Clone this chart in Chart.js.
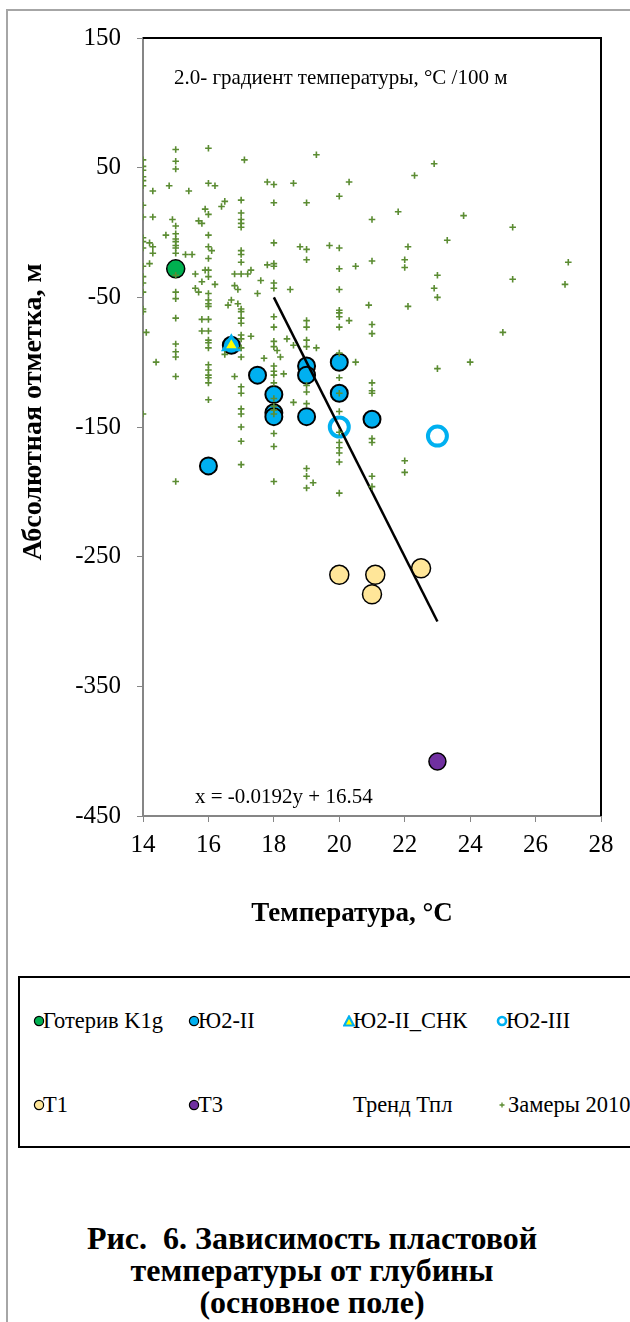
<!DOCTYPE html>
<html>
<head>
<meta charset="utf-8">
<script src="https://cdn.jsdelivr.net/npm/chart.js@4"></script>
<style>
  body { margin: 0; background: #fff; font-family: "Liberation Serif", "Times New Roman", serif; }
  #page { position: relative; width: 630px; height: 1322px; overflow: hidden; }
  #frame { position: absolute; left: 6px; top: 9px; width: 700px; height: 1400px;
           border-left: 2px solid #a6a6a6; border-top: 2px solid #a6a6a6; }
  #chartBox { position: absolute; left: 0; top: 0; width: 630px; height: 950px; }
  #legend { position: absolute; left: 18px; top: 976px; width: 700px; height: 168px; border: 2px solid #000; }
  .item { position: absolute; font-size: 22.5px; line-height: 24px; white-space: nowrap; color: #000; }
  .item svg { position: absolute; left: 0; top: 6px; }
  #title { position: absolute; left: 0; width: 624px; top: 1222px; text-align: center;
           font-weight: bold; font-size: 32px; line-height: 32px; }
</style>
</head>
<body>
<div id="page">
  <div id="frame"></div>
  <div id="chartBox"><canvas id="myChart"></canvas></div>
  <div id="legend"></div>
  <div id="title">Рис.&nbsp; 6. Зависимость пластовой<br>температуры от глубины<br>(основное поле)</div>
</div>
<script>
// температура, °C / абсолютная отметка, м
const goteriv = [[15, -28]];
const yu2II = [[16.7, -87], [16, -180], [17.5, -110], [18, -125], [18, -139], [18, -142],
  [19, -103], [19, -110], [19, -142], [20, -100], [20, -124], [21, -144]];
const yu2IIsnk = [[16.7, -87]];
const yu2III = [[20, -150], [23, -157]];
const t1 = [[20, -264], [21.1, -264], [21, -279], [22.5, -259]];
const t3 = [[23, -408]];
const trend = [[18, -50], [23, -300]];

const zamery2010 = [
  [14, 56], [14, 51], [14, 48], [14, 43], [14, 40], [14, 36], [14, 21], [14, 12], [14, -4], [14, -7],
  [14, -12], [14, -26], [14, -34], [14, -39], [14, -46], [14, -59], [14, -61], [14, -140],
  [14.1, -77], [14.2, -8], [14.2, -24], [14.3, 32], [14.3, 12], [14.3, -11], [14.3, -16], [14.4, -100],
  [14.7, -2], [14.8, 36], [14.9, 10],
  [15, 64], [15, 55], [15, 49], [15, 5], [15, -1], [15, -5], [15, -7], [15, -10], [15, -12], [15, -16],
  [15, -33], [15, -46], [15, -51], [15, -66], [15, -86], [15, -92], [15, -96], [15, -111], [15, -192],
  [15.3, -17], [15.4, 32], [15.5, -17], [15.6, -32], [15.6, -43], [15.7, 9], [15.7, -46],
  [15.8, 7], [15.8, -38], [15.8, -67], [15.8, -76], [15.9, 18], [15.9, -29],
  [16, 65], [16, 38], [16, 14], [16, -2], [16, -11], [16, -20], [16, -29], [16, -34], [16, -47], [16, -52],
  [16, -55], [16, -57], [16, -67], [16, -76], [16, -83], [16, -85], [16, -89], [16, -102], [16, -106],
  [16, -110], [16, -112], [16, -116], [16, -129],
  [16.1, -14], [16.2, 36], [16.2, -40], [16.4, 20], [16.5, 24], [16.5, -94], [16.6, -56], [16.7, -52],
  [16.8, -32], [16.8, -41], [16.8, -111], [16.9, -44], [16.9, -55],
  [17, 25], [17, 15], [17, 10], [17, 7], [17, 4], [17, -14], [17, -17], [17, -23], [17, -32], [17, -59],
  [17, -61], [17, -66], [17, -70], [17, -79], [17, -82], [17, -89], [17, -96], [17, -119], [17, -124],
  [17, -136], [17, -140], [17, -150], [17, -161], [17, -179],
  [17.1, 56], [17.2, -32], [17.3, -29], [17.3, -80], [17.5, -47], [17.6, -37], [17.7, -97],
  [17.8, 39], [17.8, -25],
  [18, 37], [18, 23], [18, -8], [18, -24], [18, -26], [18, -39], [18, -43], [18, -65], [18, -73], [18, -84],
  [18, -88], [18, -103], [18, -107], [18, -110], [18, -116], [18, -128], [18, -134], [18, -137], [18, -140],
  [18, -155], [18, -165], [18, -192],
  [18.1, -91], [18.2, -96], [18.3, -109], [18.4, -82], [18.5, -44], [18.6, 38], [18.6, -87], [18.6, -131],
  [18.8, -11],
  [19, 23], [19, -13], [19, -21], [19, -68], [19, -73], [19, -83], [19, -88], [19, -118], [19, -123],
  [19, -132], [19, -182], [19, -188], [19, -197],
  [19.2, -193], [19.3, 60], [19.3, -89], [19.7, -10],
  [20, 28], [20, -12], [20, -28], [20, -44], [20, -60], [20, -62], [20, -65], [20, -73], [20, -93],
  [20, -112], [20, -124], [20, -138], [20, -154], [20, -162], [20, -166], [20, -170], [20, -177], [20, -201],
  [20.3, 39], [20.3, -68], [20.5, -26], [20.5, -100], [20.9, -56],
  [21, 10], [21, -22], [21, -71], [21, -78], [21, -116], [21, -122], [21, -124], [21, -159], [21, -162],
  [21, -188], [21, -196],
  [21.8, 16], [22, -21], [22, -27], [22, -176], [22, -185], [22.1, -11], [22.1, -57], [22.3, 44],
  [22.9, 53], [22.9, -43], [23, -33], [23, -50], [23, -105], [23.3, -6], [23.8, 13], [24, -100],
  [25, -77], [25.3, 4], [25.3, -36], [26.9, -40], [27, -23]
];

const xTicks = [14, 16, 18, 20, 22, 24, 26, 28];
const yTicks = [150, 50, -50, -150, -250, -350, -450];

const labels = ['Готерив K1g', 'Ю2-II', 'Ю2-II_СНК', 'Ю2-III', 'Т1', 'Т3', 'Тренд Тпл', 'Замеры 2010'];

const pts = arr => arr.map(p => ({ x: p[0], y: p[1] }));

Chart.defaults.font.family = "'Liberation Serif', 'Times New Roman', serif";
Chart.defaults.color = '#000';

const datasets = [
  { label: labels[0], data: pts(goteriv), pointStyle: 'circle', pointRadius: 9,
    backgroundColor: '#00B050', borderColor: '#000', borderWidth: 1.5, order: 8 },
  { label: labels[1], data: pts(yu2II), pointStyle: 'circle', pointRadius: 8.5,
    backgroundColor: '#00B0F0', borderColor: '#000', borderWidth: 2, order: 7 },
  { label: labels[2], data: pts(yu2IIsnk), pointStyle: 'triangle', pointRadius: 9,
    backgroundColor: '#FFFF00', borderColor: '#00B0F0', borderWidth: 3, order: 6 },
  { label: labels[3], data: pts(yu2III), pointStyle: 'circle', pointRadius: 9.5,
    backgroundColor: 'rgba(0,0,0,0)', borderColor: '#00B0F0', borderWidth: 4, order: 5 },
  { label: labels[4], data: pts(t1), pointStyle: 'circle', pointRadius: 9.5,
    backgroundColor: '#FFE699', borderColor: '#000', borderWidth: 1.5, order: 4 },
  { label: labels[5], data: pts(t3), pointStyle: 'circle', pointRadius: 8.5,
    backgroundColor: '#7030A0', borderColor: '#000', borderWidth: 1.5, order: 3 },
  { label: labels[6], data: pts(trend), showLine: true, pointRadius: 0,
    borderColor: '#000', borderWidth: 2.5, backgroundColor: '#000', order: 2 },
  { label: labels[7], data: pts(zamery2010), pointStyle: 'cross', pointRadius: 3.3,
    borderColor: '#5B8C32', backgroundColor: '#5B8C32', borderWidth: 1.6, order: 1 }
];

// рамка, подписи осей и надписи на поле
const extras = {
  id: 'extras',
  afterDraw(chart) {
    const { ctx, chartArea: a } = chart;
    ctx.save();
    ctx.strokeStyle = '#000';
    ctx.lineWidth = 2;
    ctx.beginPath();
    ctx.moveTo(a.left, a.top);
    ctx.lineTo(a.right, a.top);
    ctx.lineTo(a.right, a.bottom);
    ctx.stroke();

    ctx.fillStyle = '#000';
    ctx.textBaseline = 'middle';
    ctx.textAlign = 'left';
    ctx.font = "21px 'Liberation Serif'";
    ctx.fillText('2.0- градиент температуры, °С /100 м', a.left + 31, a.top + 40);
    ctx.fillText('x = -0.0192y + 16.54', a.left + 52, a.bottom - 19);

    ctx.font = "bold 27px 'Liberation Serif'";
    ctx.textAlign = 'center';
    ctx.fillText('Температура, °С', 352, 914);
    ctx.font = "bold 28px 'Liberation Serif'";
    ctx.translate(34, 412);
    ctx.rotate(-Math.PI / 2);
    ctx.fillText('Абсолютная отметка, м', 0, 0);
    ctx.restore();
  }
};

const config = {
  type: 'scatter',
  data: { datasets: datasets },
  options: {
    responsive: true,
    maintainAspectRatio: false,
    animation: false,
    events: [],
    layout: { padding: { left: 0, top: 38, right: 29, bottom: 0 } },
    plugins: { legend: { display: false }, tooltip: { enabled: false } },
    scales: {
      x: {
        type: 'linear', min: 14, max: 28,
        afterBuildTicks: s => { s.ticks = xTicks.map(v => ({ value: v })); },
        afterFit: s => { s.height = 134; },
        grid: { drawOnChartArea: false, color: '#868686', tickLength: 6 },
        border: { color: '#868686', width: 2 },
        ticks: { font: { size: 25 }, padding: 8, color: '#000' }
      },
      y: {
        type: 'linear', min: -450, max: 150,
        afterBuildTicks: s => { s.ticks = yTicks.map(v => ({ value: v })); },
        afterFit: s => { s.width = 143; },
        grid: { drawOnChartArea: false, color: '#868686', tickLength: 6 },
        border: { color: '#868686', width: 2 },
        ticks: { font: { size: 25 }, padding: 16, color: '#000' }
      }
    }
  },
  plugins: [extras]
};

const myChart = new Chart(document.getElementById('myChart'), config);

// легенда в рамке, 4 колонки
const legendCols = [19, 174, 329, 482];
const legendRows = [43, 127];
function markerSvg(ds) {
  if (ds.showLine) return '';
  if (ds.pointStyle === 'triangle') {
    return '<svg width="12" height="12"><polygon points="6,1.5 10.8,10.5 1.2,10.5" fill="' + ds.backgroundColor +
      '" stroke="' + ds.borderColor + '" stroke-width="2.2"/></svg>';
  }
  if (ds.pointStyle === 'cross') {
    return '<svg width="12" height="12"><path d="M6 3.5V8.5M3.5 6H8.5" stroke="' + ds.borderColor +
      '" stroke-width="1.3"/></svg>';
  }
  const ring = ds.borderColor !== '#000';
  return '<svg width="12" height="12"><circle cx="6" cy="6" r="' + (ring ? 4 : 4.6) + '" fill="' +
    (ring ? '#fff' : ds.backgroundColor) + '" stroke="' + ds.borderColor + '" stroke-width="' +
    (ring ? 2.6 : 1.2) + '"/></svg>';
}
const legendEl = document.getElementById('legend');
myChart.data.datasets.forEach((ds, i) => {
  const el = document.createElement('div');
  el.className = 'item';
  el.style.left = (legendCols[i % 4] - 6) + 'px';
  el.style.top = (legendRows[Math.floor(i / 4)] - 12) + 'px';
  el.innerHTML = markerSvg(ds) + '<span style="margin-left:' + (i === 7 ? 12 : 10) + 'px">' + ds.label + '</span>';
  legendEl.appendChild(el);
});
</script>
</body>
</html>
